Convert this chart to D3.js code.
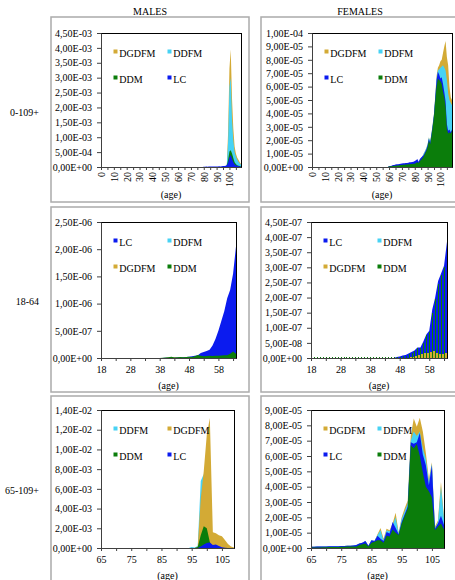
<!DOCTYPE html>
<html lang="en">
<head>
<meta charset="utf-8">
<title>Mortality by age and cause</title>
<script src="https://d3js.org/d3.v7.min.js"></script>
<style>
  body { margin: 0; background: #fff; }
  svg text { font-family: "Liberation Serif", "Times New Roman", serif; font-size: 10px; fill: #000; }
</style>
</head>
<body>
<svg id="chart" width="455" height="580"></svg>
<script>
// categories (ages)
const agesAll = d3.range(0, 110);
const agesWork = d3.range(18, 65);
const agesOld = d3.range(65, 110);

// x ticks and labels
const xTicksAll = [0, 5, 10, 15, 20, 25, 30, 35, 40, 45, 50, 55, 60, 65, 70, 75, 80, 85, 90, 95, 100, 105];
const xLabelsAll = [0, 10, 20, 30, 40, 50, 60, 70, 80, 90, 100];
const xTicksWork = [18, 23, 28, 33, 38, 43, 48, 53, 58, 63];
const xLabelsWork = [18, 28, 38, 48, 58];
const xTicksOld = [65, 70, 75, 80, 85, 90, 95, 100, 105];
const xLabelsOld = [65, 75, 85, 95, 105];

// y ticks
const yTicksMaleAll = [0, 5e-4, 1e-3, 1.5e-3, 2e-3, 2.5e-3, 3e-3, 3.5e-3, 4e-3, 4.5e-3];
const yTicksFemaleAll = [0, 1e-5, 2e-5, 3e-5, 4e-5, 5e-5, 6e-5, 7e-5, 8e-5, 9e-5, 1e-4];
const yTicksMaleWork = [0, 5e-7, 1e-6, 1.5e-6, 2e-6, 2.5e-6];
const yTicksFemaleWork = [0, 5e-8, 1e-7, 1.5e-7, 2e-7, 2.5e-7, 3e-7, 3.5e-7, 4e-7, 4.5e-7];
const yTicksMaleOld = [0, 2e-3, 4e-3, 6e-3, 8e-3, 1e-2, 1.2e-2, 1.4e-2];
const yTicksFemaleOld = [0, 1e-5, 2e-5, 3e-5, 4e-5, 5e-5, 6e-5, 7e-5, 8e-5, 9e-5];

// ---- MALES 0-109+ ----
const maleAllDGDFM = [
  0,0,0,0,0,0,0,0,0,0, 0,0,0,0,0,0,0,0,0,0, 0,0,0,0,0,0,0,0,0,0, 0,0,0,0,0,0,0,0,0,0,
  0,0,0,0,0,0,0,0,0,0, 0,0,0,0,0,0,0,0,0,0, 0,0,0,0,0,0,0,0,0,0, 0,0,0,0,0,0,0,0,0,0,
  0,0,0,0,0,0,0,0,0,0,
  0,0,0,0,0,0,0,0,1e-4,1.2e-3,
  3.3e-3,3.95e-3,2.3e-3,1.3e-3,7e-4,4.5e-4,3.2e-4,2.4e-4,1.6e-4,1e-4];
const maleAllDDFM = [
  0,0,0,0,0,0,0,0,0,0, 0,0,0,0,0,0,0,0,0,0, 0,0,0,0,0,0,0,0,0,0, 0,0,0,0,0,0,0,0,0,0,
  0,0,0,0,0,0,0,0,0,0, 0,0,0,0,0,0,0,0,0,0, 0,0,0,0,0,0,0,0,0,0, 0,0,0,0,0,0,0,0,0,0,
  0,0,0,0,0,0,0,0,0,0,
  0,0,0,0,0,0,0,0,1e-4,9e-4,
  2.7e-3,3.0e-3,1.6e-3,9e-4,5e-4,3.5e-4,2.5e-4,1.8e-4,1.2e-4,8e-5];
const maleAllDDM = [
  0,0,0,0,0,0,0,0,0,0, 0,0,0,0,0,0,0,0,0,0, 0,0,0,0,0,0,0,0,0,0, 0,0,0,0,0,0,0,0,0,0,
  0,0,0,0,0,0,0,0,0,0, 0,0,0,0,0,0,0,0,0,0, 0,0,0,0,0,0,0,0,0,0, 0,0,0,0,0,0,0,0,0,0,
  0,0,0,0,0,0,0,0,0,0,
  0,0,0,0,0,0,0,0,5e-5,2.5e-4,
  5.2e-4,5.6e-4,4.5e-4,3e-4,1.6e-4,1e-4,6e-5,4e-5,3e-5,2e-5];
const maleAllLC = [
  0,0,0,0,0,0,0,0,0,0, 0,0,0,0,0,0,0,0,0,0, 0,0,0,0,0,0,0,0,0,0, 0,0,0,0,0,0,0,0,0,0,
  0,0,0,0,0,0,0,0,0,0, 0,0,0,0,0,0,0,0,0,0, 0,0,0,0,0,0,0,0,0,0, 0,0,0,0,0,0,0,0,0,0,
  1e-5,1e-5,1.5e-5,1e-5,1.5e-5,2e-5,1.5e-5,2e-5,2e-5,1.5e-5,
  2e-5,2e-5,2.5e-5,2e-5,2.5e-5,3e-5,3e-5,4e-5,6e-5,1.5e-4,
  3.2e-4,4e-4,2.8e-4,1.6e-4,9e-5,6e-5,4e-5,3e-5,2e-5,1e-5];

// ---- FEMALES 0-109+ ----
const femaleAllDGDFM = [
  0,0,0,0,0,0,0,0,0,0, 0,0,0,0,0,0,0,0,0,0, 0,0,0,0,0,0,0,0,0,0,
  0,0,0,0,0,0,0,0,0,0, 0,0,0,0,0,0,0,0,0,0, 0,0,0,0,0,0,0,0,0,0,
  3e-7,5e-7,6e-7,8e-7,9e-7,1e-6,1.1e-6,1.2e-6,1.3e-6,1.4e-6,
  1.5e-6,1.6e-6,1.7e-6,1.8e-6,1.9e-6,2e-6,2.1e-6,2.2e-6,2.3e-6,2.4e-6,
  2.5e-6,3e-6,3.5e-6,3e-6,4.5e-6,6e-6,8e-6,1e-5,1.2e-5,1.4e-5,
  1.7e-5,2.2e-5,1.9e-5,2.5e-5,3.2e-5,4e-5,5.4e-5,6.8e-5,7.4e-5,7.6e-5,
  7.9e-5,8e-5,8.5e-5,9e-5,9.4e-5,8.2e-5,7.6e-5,6e-5,5.2e-5,5e-5];
const femaleAllDDFM = [
  0,0,0,0,0,0,0,0,0,0, 0,0,0,0,0,0,0,0,0,0, 0,0,0,0,0,0,0,0,0,0,
  0,0,0,0,0,0,0,0,0,0, 0,0,0,0,0,0,0,0,0,0, 0,0,0,0,0,0,0,0,0,0,
  3e-7,5e-7,6e-7,8e-7,9e-7,1e-6,1.1e-6,1.2e-6,1.3e-6,1.4e-6,
  1.5e-6,1.6e-6,1.7e-6,1.8e-6,1.9e-6,2e-6,2.1e-6,2.2e-6,2.3e-6,2.4e-6,
  2.5e-6,3e-6,3.5e-6,3e-6,4.5e-6,6e-6,8e-6,1e-5,1.2e-5,1.4e-5,
  1.7e-5,2.2e-5,1.9e-5,2.5e-5,3.2e-5,4e-5,5.3e-5,6.6e-5,7.2e-5,7.3e-5,
  7.4e-5,7.5e-5,7.6e-5,7.4e-5,7.2e-5,6.5e-5,5.5e-5,5e-5,4.8e-5,4.6e-5];
const femaleAllLC = [
  0,0,0,0,0,0,0,0,0,0, 0,0,0,0,0,0,0,0,0,0, 0,0,0,0,0,0,0,0,0,0,
  0,0,0,0,0,0,0,0,0,0, 0,0,0,0,0,0,0,0,0,0, 0,0,0,0,0,0,0,0,0,0,
  5e-7,8e-7,1e-6,1.5e-6,1.5e-6,1.8e-6,2e-6,2e-6,2.2e-6,2.5e-6,
  2.6e-6,2.8e-6,2.8e-6,3e-6,3e-6,3.2e-6,3.5e-6,3.5e-6,3.8e-6,4e-6,
  4.5e-6,5e-6,6e-6,4e-6,6e-6,7e-6,8e-6,9e-6,1.1e-5,1.3e-5,
  1.6e-5,2.1e-5,1.8e-5,2.4e-5,3.1e-5,3.9e-5,5.2e-5,6.5e-5,7.1e-5,6.9e-5,
  6.6e-5,6.7e-5,6.2e-5,5.6e-5,4.9e-5,3.2e-5,2.7e-5,2.8e-5,2.6e-5,2.8e-5];
const femaleAllDDM = [
  0,0,0,0,0,0,0,0,0,0, 0,0,0,0,0,0,0,0,0,0, 0,0,0,0,0,0,0,0,0,0,
  0,0,0,0,0,0,0,0,0,0, 0,0,0,0,0,0,0,0,0,0, 0,0,0,0,0,0,0,0,0,0,
  3e-7,5e-7,6e-7,8e-7,9e-7,1e-6,1.1e-6,1.2e-6,1.3e-6,1.4e-6,
  1.5e-6,1.6e-6,1.7e-6,1.8e-6,1.9e-6,2e-6,2.1e-6,2.2e-6,2.3e-6,2.4e-6,
  2.5e-6,3e-6,3.5e-6,3e-6,4.5e-6,5.5e-6,6.5e-6,8e-6,1e-5,1.2e-5,
  1.5e-5,2e-5,1.7e-5,2.3e-5,3e-5,3.8e-5,5e-5,6e-5,6.6e-5,6.5e-5,
  6.4e-5,6.2e-5,5.6e-5,5.2e-5,4.5e-5,2.9e-5,2.5e-5,2.6e-5,2.5e-5,2.7e-5];

// ---- MALES 18-64 ----
const maleWorkLC = [
  0,0,0,0,0,0,0,0,0,0,
  0,0,0,0,0,0,0,0,0,0,
  0,0,5e-9,5e-9,8e-9,1e-8,1e-8,1.2e-8,1.5e-8,2e-8,
  2.5e-8,3e-8,4e-8,5e-8,9e-8,1.1e-7,1.3e-7,1.5e-7,2.3e-7,3.5e-7,
  5e-7,6.8e-7,8.6e-7,1.1e-6,1.25e-6,1.55e-6,2.05e-6];
const maleWorkDDFM = [
  0,0,0,0,0,0,0,0,0,0,
  0,0,0,0,0,0,0,0,0,0,
  0,0,0,0,5e-9,0,0,5e-9,0,5e-9,
  5e-9,0,5e-9,5e-9,5e-9,0,5e-9,5e-9,5e-9,5e-9,
  5e-9,5e-9,1e-8,5e-9,1e-8,1e-8,5e-9];
const maleWorkDGDFM = [
  0,0,0,0,0,0,0,0,0,0,
  0,0,0,0,0,0,0,0,0,0,
  0,0,0,1e-8,0,1.5e-8,0,1e-8,0,1e-8,
  0,1e-8,1.5e-8,1e-8,2e-8,1e-8,2e-8,1.5e-8,2e-8,1.5e-8,
  2e-8,2.5e-8,2e-8,3e-8,2.5e-8,3e-8,2e-8];
const maleWorkDDM = [
  0,0,0,0,0,0,0,0,0,0,
  0,0,0,0,0,0,0,0,0,0,
  0,5e-9,1e-8,1.5e-8,2.5e-8,1e-8,1.5e-8,2e-8,1.5e-8,2e-8,
  2.5e-8,2e-8,3e-8,5.5e-8,4e-8,3e-8,3.5e-8,4e-8,3.5e-8,4e-8,
  4e-8,4.5e-8,5e-8,5e-8,8e-8,1.2e-7,8e-8];

// ---- FEMALES 18-64 ----
const femaleWorkLC = [
  0,0,0,0,0,0,0,0,0,0,
  0,0,0,0,0,0,0,0,0,0,
  0,0,0,0,0,0,0,0,0,3e-9,
  5e-9,8e-9,1e-8,1.5e-8,2e-8,2.5e-8,3.5e-8,3.5e-8,5.5e-8,7.8e-8,
  9e-8,1.6e-7,2e-7,2.55e-7,2.8e-7,3.05e-7,3.85e-7];
const femaleWorkDDFM = [
  0,0,0,0,0,0,0,0,0,0,
  0,0,0,0,0,0,0,0,0,0,
  0,0,0,0,0,0,0,0,0,0,
  0,0,0,0,0,0,2e-9,2e-9,2e-9,2e-9,
  2e-9,2e-9,2e-9,2e-9,2e-9,2e-9,2e-9];
const femaleWorkDGDFM = [
  0,0,0,0,0,0,0,0,0,0,
  0,0,0,0,0,0,0,0,0,0,
  0,0,0,0,0,0,0,0,0,0,
  0,0,0,0,3e-9,4e-9,6e-9,1e-8,1.3e-8,1.5e-8,
  1.8e-8,2e-8,2.2e-8,1.6e-8,1.4e-8,1.3e-8,1.8e-8];
const femaleWorkDDM = [
  3e-9,3e-9,3e-9,3e-9,3e-9,3e-9,3e-9,3e-9,3e-9,3e-9,
  3e-9,3e-9,3e-9,3e-9,3e-9,3e-9,3e-9,3e-9,3e-9,3e-9,
  3e-9,3e-9,3e-9,3e-9,3e-9,3e-9,3e-9,3e-9,3e-9,3e-9,
  4e-9,7e-9,8e-9,1.3e-8,1.8e-8,2.3e-8,3.2e-8,3.3e-8,5e-8,7.5e-8,
  8.5e-8,1.5e-7,1.95e-7,2.45e-7,2.75e-7,3e-7,3.8e-7];

// ---- MALES 65-109+ ----
const maleOldDDFM = [
  0,0,0,0,0,0,0,0,0,0,
  0,0,0,0,0,0,0,0,0,0,
  0,0,0,0,0,0,0,0,0,0,
  1e-4,5e-5,2e-4,6.8e-3,7.5e-3,3e-3,1e-3,6e-4,5e-4,4e-4,
  3e-4,2e-4,1e-4,5e-5,0];
const maleOldDGDFM = [
  0,0,0,0,0,0,0,0,0,0,
  0,0,0,0,0,0,0,0,0,0,
  0,0,0,0,0,0,0,0,0,0,
  0,0,1e-4,5e-3,7.8e-3,1.15e-2,1.32e-2,1.6e-3,1.5e-3,1.3e-3,
  1.2e-3,8e-4,4e-4,1.5e-4,5e-5];
const maleOldDDM = [
  0,0,0,0,0,0,0,0,0,0,
  0,0,0,0,0,0,0,0,0,0,
  0,0,0,0,0,0,0,0,0,0,
  0,0,1e-4,1.3e-3,2.2e-3,2e-3,6e-4,0,0,0,
  0,0,0,0,0];
const maleOldLC = [
  0,0,0,0,0,0,0,0,0,0,
  0,0,0,0,0,0,0,0,0,0,
  0,0,0,0,0,0,0,0,0,0,
  0,0,0,1.5e-4,3.5e-4,5e-4,5.5e-4,3e-4,3.5e-4,2e-4,
  8e-5,3e-5,0,0,0];

// ---- FEMALES 65-109+ ----
const femaleOldDGDFM = [
  8e-7,8e-7,9e-7,9e-7,1e-6,1e-6,1.1e-6,1.1e-6,1.2e-6,1.2e-6,
  1.3e-6,1.3e-6,1.4e-6,1.5e-6,1.7e-6,2e-6,3e-6,3.5e-6,4.5e-6,1.5e-6,
  5e-6,4.5e-6,9e-6,1.3e-5,6e-6,1.25e-5,1.15e-5,1.6e-5,2.3e-5,1e-5,
  2e-5,2.6e-5,3.1e-5,7.3e-5,8.45e-5,7.9e-5,8.5e-5,7.6e-5,6.2e-5,4.5e-5,
  5.6e-5,1.4e-5,1.8e-5,4.3e-5,2e-5];
const femaleOldDDFM = [
  8e-7,8e-7,9e-7,9e-7,1e-6,1e-6,1.1e-6,1.1e-6,1.2e-6,1.2e-6,
  1.3e-6,1.3e-6,1.4e-6,1.5e-6,1.7e-6,2e-6,3e-6,3.5e-6,4.5e-6,1.5e-6,
  5e-6,4.5e-6,8.5e-6,1.15e-5,5e-6,1.15e-5,1.1e-5,1.5e-5,2e-5,9.5e-6,
  1.9e-5,2.4e-5,2.9e-5,7e-5,7.6e-5,7.3e-5,7.6e-5,6.5e-5,5.8e-5,4.3e-5,
  5.5e-5,1.3e-5,1.7e-5,4e-5,1.9e-5];
const femaleOldLC = [
  8e-7,8e-7,9e-7,9e-7,1e-6,1e-6,1.1e-6,1.1e-6,1.2e-6,1.2e-6,
  1.3e-6,1.3e-6,1.4e-6,1.5e-6,1.7e-6,2e-6,3e-6,3.5e-6,4.5e-6,1.5e-6,
  5e-6,4.5e-6,8e-6,6e-6,4.5e-6,1.05e-5,9.5e-6,1.7e-5,1.3e-5,9e-6,
  1.7e-5,2.2e-5,2.7e-5,6.9e-5,6.8e-5,6.9e-5,7.5e-5,6.1e-5,5.4e-5,4.1e-5,
  5.4e-5,1.25e-5,1.6e-5,2.1e-5,1.5e-5];
const femaleOldDDM = [
  3e-7,3e-7,4e-7,4e-7,5e-7,5e-7,6e-7,6e-7,7e-7,7e-7,
  8e-7,8e-7,9e-7,1e-6,1e-6,1e-6,2e-6,2.5e-6,3e-6,1e-6,
  3.5e-6,4e-6,5e-6,5e-6,3.5e-6,8e-6,7.5e-6,1.2e-5,1e-5,8.5e-6,
  1.6e-5,2.1e-5,2.6e-5,6.7e-5,6.5e-5,6.8e-5,6e-5,4.9e-5,4e-5,3.7e-5,
  3.3e-5,1.15e-5,1.4e-5,1.6e-5,1.2e-5];

const colors = { DGDFM: "#d3aa35", DDFM: "#47d2f4", DDM: "#0b7d0b", LC: "#0b1bef" };
const serif = '"Liberation Serif", "Times New Roman", serif';

// layout of the six panels
const panels = [
  { ages: agesAll, xTicks: xTicksAll, xLabels: xLabelsAll, yTicks: yTicksMaleAll, rotate: true,
    box: [101, 241, 33, 167], order: ["DGDFM", "DDFM", "DDM", "LC"],
    data: { DGDFM: maleAllDGDFM, DDFM: maleAllDDFM, DDM: maleAllDDM, LC: maleAllLC } },
  { ages: agesAll, xTicks: xTicksAll, xLabels: xLabelsAll, yTicks: yTicksFemaleAll, rotate: true,
    box: [312, 452, 33, 167], order: ["DGDFM", "DDFM", "LC", "DDM"],
    data: { DGDFM: femaleAllDGDFM, DDFM: femaleAllDDFM, LC: femaleAllLC, DDM: femaleAllDDM } },
  { ages: agesWork, xTicks: xTicksWork, xLabels: xLabelsWork, yTicks: yTicksMaleWork,
    box: [101, 236, 222, 358], order: ["LC", "DDFM", "DGDFM", "DDM"],
    data: { LC: maleWorkLC, DDFM: maleWorkDDFM, DGDFM: maleWorkDGDFM, DDM: maleWorkDDM } },
  { ages: agesWork, xTicks: xTicksWork, xLabels: xLabelsWork, yTicks: yTicksFemaleWork,
    box: [311, 447, 222, 358], order: ["LC", "DDFM", "DGDFM", "DDM"],
    bars: { DGDFM: [-2, 2], DDM: [0, 1] },
    data: { LC: femaleWorkLC, DDFM: femaleWorkDDFM, DGDFM: femaleWorkDGDFM, DDM: femaleWorkDDM } },
  { ages: agesOld, xTicks: xTicksOld, xLabels: xLabelsOld, yTicks: yTicksMaleOld,
    box: [101, 234, 410, 548], order: ["DDFM", "DGDFM", "DDM", "LC"],
    data: { DDFM: maleOldDDFM, DGDFM: maleOldDGDFM, DDM: maleOldDDM, LC: maleOldLC } },
  { ages: agesOld, xTicks: xTicksOld, xLabels: xLabelsOld, yTicks: yTicksFemaleOld,
    box: [311, 444, 410, 548], order: ["DGDFM", "DDFM", "LC", "DDM"],
    data: { DGDFM: femaleOldDGDFM, DDFM: femaleOldDDFM, LC: femaleOldLC, DDM: femaleOldDDM } }
];

const svg = d3.select("#chart");

/** 4,50E-03 style labels */
function sci(v) {
  if (v === 0) return "0,00E+00";
  const parts = v.toExponential(2).split("e");
  const e = +parts[1];
  return parts[0].replace(".", ",") + "E" + (e < 0 ? "-" : "+") + String(Math.abs(e)).padStart(2, "0");
}

/** outer grey chart frames */
const frameRows = [[17, 202], [207, 392], [396, 581]];
const frameCols = [[51, 249], [261, 459]];
frameRows.forEach(r => frameCols.forEach(c => {
  svg.append("rect")
    .attr("x", c[0]).attr("y", r[0])
    .attr("width", c[1] - c[0]).attr("height", r[1] - r[0])
    .attr("fill", "none").attr("stroke", "#ababab").attr("stroke-width", 1.5);
}));

svg.append("text").attr("x", 150).attr("y", 15).attr("text-anchor", "middle").text("MALES");
svg.append("text").attr("x", 360).attr("y", 15).attr("text-anchor", "middle").text("FEMALES");
svg.append("text").attr("x", 39).attr("y", 116).attr("text-anchor", "end").text("0-109+");
svg.append("text").attr("x", 39).attr("y", 305).attr("text-anchor", "end").text("18-64");
svg.append("text").attr("x", 39).attr("y", 494).attr("text-anchor", "end").text("65-109+");

panels.forEach(function(p) {
  const x0 = p.box[0], x1 = p.box[1], y0 = p.box[2], y1 = p.box[3];
  const x = d3.scalePoint().domain(p.ages).range([x0, x1]);
  const y = d3.scaleLinear().domain([0, p.yTicks[p.yTicks.length - 1]]).range([y1, y0]);
  const g = svg.append("g");

  /** series, first one at the back */
  p.order.forEach(function(name) {
    const pts = p.ages.map((a, i) => ({ a: a, v: p.data[name][i] }));
    if (p.bars && p.bars[name]) {
      const b = p.bars[name];
      g.selectAll(null).data(pts).enter().append("rect")
        .attr("x", d => Math.round(x(d.a)) + b[0])
        .attr("width", b[1])
        .attr("y", d => y(d.v))
        .attr("height", d => y(0) - y(d.v))
        .attr("fill", colors[name])
        .attr("shape-rendering", "crispEdges");
    } else {
      g.append("path").datum(pts)
        .attr("fill", colors[name])
        .attr("d", d3.area().x(d => x(d.a)).y0(y(0)).y1(d => y(d.v)));
    }
  });

  g.append("rect")
    .attr("x", x0 + 0.5).attr("y", y0 + 0.5)
    .attr("width", x1 - x0).attr("height", y1 - y0)
    .attr("fill", "none").attr("stroke", "#000").attr("stroke-width", 1);

  g.append("g")
    .attr("transform", "translate(" + x0 + ",0)")
    .style("color", "#404040")
    .call(d3.axisLeft(y).tickValues(p.yTicks).tickSize(4).tickSizeOuter(0).tickPadding(5).tickFormat(sci));

  const xAxis = g.append("g")
    .attr("transform", "translate(0," + y1 + ")")
    .style("color", "#404040")
    .call(d3.axisBottom(x).tickValues(p.xTicks).tickSize(3).tickSizeOuter(0).tickPadding(5)
      .tickFormat(d => p.xLabels.indexOf(d) >= 0 ? String(d) : ""));

  if (p.rotate) {
    xAxis.selectAll("text")
      .attr("transform", "rotate(-90)")
      .attr("x", -5).attr("y", 0).attr("dy", "0.34em")
      .style("text-anchor", "end");
  }

  g.append("text")
    .attr("x", (x0 + x1) / 2).attr("y", y1 + 31)
    .attr("text-anchor", "middle").text("(age)");

  /** 2x2 legend inside the plot */
  p.order.forEach(function(name, i) {
    const lx = x0 + 12.5 + (i % 2) * 54;
    const ly = y0 + 16.5 + Math.floor(i / 2) * 26;
    g.append("rect").attr("x", lx).attr("y", ly).attr("width", 4).attr("height", 4).attr("fill", colors[name]);
    g.append("text").attr("x", lx + 5.8).attr("y", ly + 7.8).text(name);
  });
});

svg.selectAll("text").style("font-family", serif).style("font-size", "10px");
</script>
</body>
</html>
